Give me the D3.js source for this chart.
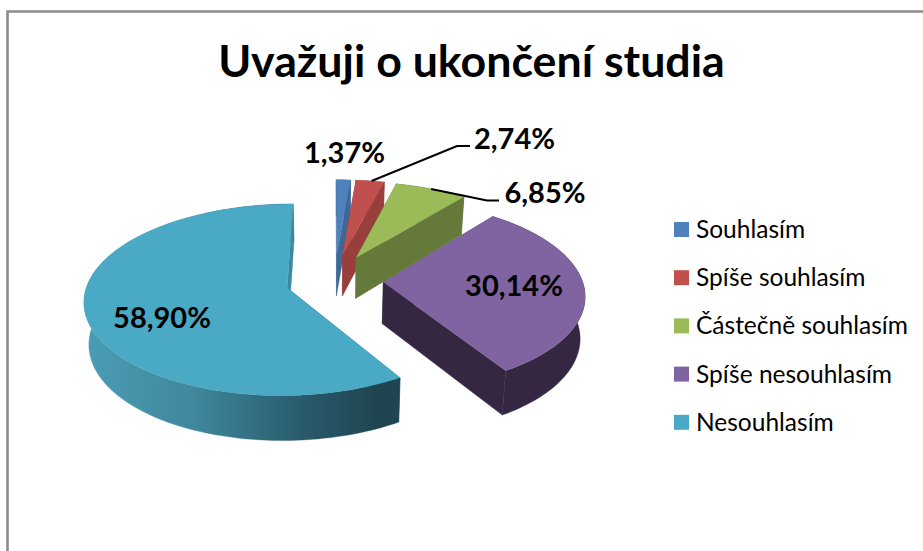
<!DOCTYPE html>
<html><head><meta charset="utf-8">
<script src="https://cdn.jsdelivr.net/npm/d3@7/dist/d3.min.js"></script>
<style>html,body{margin:0;padding:0;background:#fff;overflow:hidden}svg{display:block}text{font-family:Lato,"Noto Sans",sans-serif;fill:#000}</style>
</head><body><div id="c"></div>
<script>
const chartTitle = "Uvažuji o ukončení studia";
const categories = ["Souhlasím","Spíše souhlasím","Částečně souhlasím","Spíše nesouhlasím","Nesouhlasím"];
const values = [1.37,2.74,6.85,30.14,58.90];
const valueLabels = ["1,37%","2,74%","6,85%","30,14%","58,90%"];
const topColors = ["#4F81BD","#C0504D","#9BBB59","#8064A2","#4AA9C4"];
const sideColors = ["#3F6797","#983F3C","#64793A","#352741","#3A8AA0"];

// layout
const W=923,H=551;
const cx=334.5,cy=280.5,A=199,B=94,k=0.127,exX=0.245,exY=0.28,D=41.5,shrink=0.98;
const labelXY=[[344.5,153],[514.5,139],[545,193],[514,286],[162,318]];
const legendX=674,legendTop=222,legendStep=48.2,legendBox=15;

const svg=d3.select("#c").append("svg").attr("width",W).attr("height",H);
const defs=svg.append("defs");

// frame
svg.append("path").attr("d",`M7.5 ${H}V11.5H${W}`).attr("fill","none").attr("stroke","#8c8c8c").attr("stroke-width",2.6);

svg.append("text").attr("x",471.5).attr("y",77).attr("text-anchor","middle")
  .attr("font-size",44.7).attr("font-weight",700).text(chartTitle);

const sx=d3.scaleLinear().domain([-1,1]).range([cx-A,cx+A]);
const sy=d3.scaleLinear().domain([-1,1]).range([cy-B,cy+B]);
const arcs=d3.pie().sort(null).value(d=>d)(values);

function project(X,Y,bottom){
  const s=1+k*Y;
  let px=cx+(sx(X)-cx)*s, py=cy+(sy(Y)-cy)*s;
  if(bottom){
    px=cx+(px-cx)*shrink;
    py=cy+(py-cy)*shrink+D*s;
  }
  return [px,py];
}
function planePoint(a,r,mid){
  return [exX*Math.sin(mid)+r*Math.sin(a), -exY*Math.cos(mid)-r*Math.cos(a)];
}
const line=d3.line();
function rimPts(d,bottom){
  const mid=(d.startAngle+d.endAngle)/2, n=Math.max(3,Math.ceil((d.endAngle-d.startAngle)*40)),pts=[];
  for(let i=0;i<=n;i++){
    const a=d.startAngle+(d.endAngle-d.startAngle)*i/n;
    const p=planePoint(a,1,mid); pts.push(project(p[0],p[1],bottom));
  }
  return pts;
}
function apex(d,bottom){
  const mid=(d.startAngle+d.endAngle)/2,p=planePoint(0,0,mid);
  return project(p[0],p[1],bottom);
}

// teal rim gradient
const grad=defs.append("linearGradient").attr("id","rimG").attr("gradientUnits","userSpaceOnUse")
  .attr("x1",85).attr("x2",400).attr("y1",0).attr("y2",0);
[[0,"#4A9DB5"],[0.35,"#3F879C"],[0.7,"#28596A"],[0.92,"#1F4551"],[1,"#1F4551"]]
  .forEach(s=>grad.append("stop").attr("offset",s[0]).attr("stop-color",s[1]));

arcs.forEach((d,i)=>{
  const g=svg.append("g");
  const topR=rimPts(d,false),botR=rimPts(d,true),aT=apex(d,false),aB=apex(d,true);
  const side=i===4?"url(#rimG)":sideColors[i];
  const face=q=>g.append("path").attr("d",line(q)+"Z").attr("fill",sideColors[i]).attr("stroke",sideColors[i]).attr("stroke-width",0.4);
  face([aT,topR[0],botR[0],aB]);
  g.append("path").attr("d",line(topR.concat(botR.slice().reverse()))+"Z").attr("fill",side).attr("stroke",side).attr("stroke-width",0.4);
  face([aT,topR[topR.length-1],botR[botR.length-1],aB]);
  g.append("path").attr("d",line([aT].concat(topR))+"Z").attr("fill",topColors[i]);
});

// leaders
[[1,0.55,[457,146],[470,146]],[2,0.5,[487,200.5],[499,200.5]]].forEach(([i,t,e1,e2])=>{
  const d=arcs[i],mid=(d.startAngle+d.endAngle)/2;
  const a=d.startAngle+(d.endAngle-d.startAngle)*t,p=planePoint(a,1,mid),s=project(p[0],p[1],false);
  svg.append("path").attr("d",line([s,e1,e2])).attr("fill","none").attr("stroke","#000").attr("stroke-width",2);
});

// value labels
arcs.forEach((d,i)=>{
  svg.append("text").attr("x",labelXY[i][0]).attr("y",labelXY[i][1]+10).attr("text-anchor","middle")
    .attr("font-size",29).attr("font-weight",700).text(valueLabels[i]);
});

// legend
const ly=d3.scalePoint().domain(categories).range([legendTop,legendTop+legendStep*4]);
categories.forEach((c,i)=>{
  svg.append("rect").attr("x",legendX).attr("y",ly(c)).attr("width",legendBox).attr("height",legendBox).attr("fill",topColors[i]);
  svg.append("text").attr("x",696).attr("y",ly(c)+16).attr("font-size",24.5).text(c);
});
</script></body></html>
